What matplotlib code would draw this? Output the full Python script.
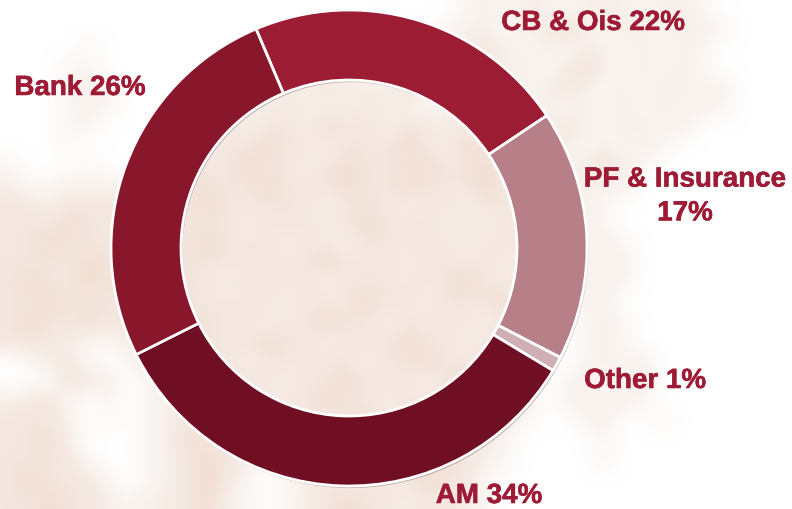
import numpy as np
import matplotlib.pyplot as plt
from matplotlib.colors import LinearSegmentedColormap
from matplotlib import patheffects as pe

plt.rcParams['font.family'] = ['Liberation Sans', 'DejaVu Sans']

labels = ['CB & Ois 22%', 'PF & Insurance\n17%', 'Other 1%', 'AM 34%', 'Bank 26%']
values = [22, 17, 1, 34, 26]
colors = ['#9c1c33', '#b77f87', '#d0afb4', '#700f23', '#88172b']
label_pos = [(593, 23), (685, 196.5), (645, 381), (489, 496), (80, 88)]

# pale map behind the ring, one character per 20px cell
map_rows = [
    '.......................-+-++-+++-++-....',
    '...................-..-++-++*+-++-++-...',
    '....-..........-+-..-+-+#+-+-++-+-+-....',
    '...--.........-+++--+++#+++-+*+-+-+-....',
    '...-+-......-+++#+++#+-+#+-+#+-+-++-+...',
    '...-+-.....-++#+++#++-+#+-++-+-+-+-+-...',
    '...--.....-#+##+*##+##+#+-++#+-++-+.....',
    '...-.....-+##*##+###*#+*##+++-+-+-......',
    '-...-...-###*##+#*###*##*#+-++*+-.......',
    '+--+-+-+#*###*###*##*###*##+-+-+........',
    '##+####*##*#####+###+##+###+-+-.........',
    '###*##+#*###+###+#*###+#+###-+-.........',
    '##*###*###*###+##+#####+###+--+-........',
    '####*###*#######*###+####+#+-+-+........',
    '#*##*#*#*##+####+######*##+#+-+-........',
    '##*#####*#####+###*##+###*#-+-+.........',
    '#*##*####*###+##*##+####+##-.-+-........',
    '###+--+##*###*##+###*##+###..-+-........',
    '.-+#-.-+#*##+#####+##*###+#..-+-+.......',
    '..-##+.-+##*##+##*###+#*###.-+--+.......',
    '+##-.-.-+*###+##*##+##*###+.-+-+-.......',
    '###+.-.-+##*##+###*###+##+-..-+..-......',
    '##*+...-+*###*##+###*##+#-....-.........',
    '####-..-+#*#+-+#*##+##*#+-....-.........',
    '#*###-.-+#*#-.-+#+###*##-...............',
    '##*##+-++#*+-.-+#*##+##+-...............',
]
levels = {'.': 0.0, '-': 0.35, '+': 0.7, '#': 1.0, '*': 1.25}
map_grid = np.array([[levels[c] for c in row.ljust(40, '.')] for row in map_rows])

fig = plt.figure(figsize=(7.92, 5.09), dpi=100)
ax = fig.add_axes([0, 0, 1, 1])

pale = LinearSegmentedColormap.from_list('pale', [(0, '#ffffff'), (0.8, '#f4e7df'), (1, '#f2dccf')])
ax.imshow(map_grid, cmap=pale, vmin=0, vmax=1.25, interpolation='bicubic', extent=(0, 792, 0, 509), aspect='auto', zorder=0)

wedges, _ = ax.pie(values, center=(349, 261), radius=238, startangle=113, counterclock=False, colors=colors,
                   wedgeprops=dict(width=70, edgecolor='white', linewidth=2))
for w in wedges:
    w.set_path_effects([pe.SimplePatchShadow(offset=(1, -1.5), alpha=0.25), pe.Normal()])

for lab, pos in zip(labels, label_pos):
    ax.text(pos[0], 509 - pos[1], lab, ha='center', va='center', color='#9e1b36', fontsize=20, fontweight='bold', linespacing=1.39,
            path_effects=[pe.withStroke(linewidth=0.4, foreground='#9e1b36')])

ax.set_xlim(0, 792)
ax.set_ylim(0, 509)
ax.set_aspect('auto')
ax.axis('off')

plt.savefig('out.png', dpi=100)
